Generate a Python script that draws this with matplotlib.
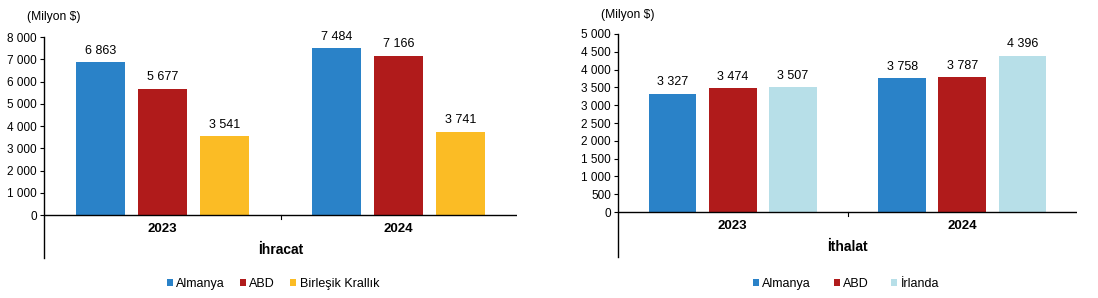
import numpy as np
import matplotlib
matplotlib.use("Agg")
import matplotlib.pyplot as plt
from matplotlib.patches import Patch
from matplotlib.ticker import FuncFormatter, MultipleLocator

plt.rcParams["font.family"] = ["Liberation Sans", "DejaVu Sans"]

# Veriler
yillar = ["2023", "2024"]

ihracat_ulkeler = ["Almanya", "ABD", "Birleşik Krallık"]
ihracat_almanya = [6863, 7484]
ihracat_abd = [5677, 7166]
ihracat_bk = [3541, 3741]

ithalat_ulkeler = ["Almanya", "ABD", "İrlanda"]
ithalat_almanya = [3327, 3758]
ithalat_abd = [3474, 3787]
ithalat_irlanda = [3507, 4396]

mavi = "#2a82c8"
kirmizi = "#b01b1b"
sari = "#fbbc25"
acik_mavi = "#b7dfe8"


def binlik(v, pos=None):
    return f"{int(round(v)):,}".replace(",", " ")


def grafik(ax, seriler, renkler, ymax, ystep, ymin, baslik):
    x = np.arange(len(yillar)) + 0.5
    aralik = 0.262
    genislik = 0.208
    for i, (degerler, renk) in enumerate(zip(seriler, renkler)):
        konum = x + (i - 1) * aralik
        bars = ax.bar(konum, degerler, width=genislik, color=renk, zorder=2)
        for b, v in zip(bars, degerler):
            ax.annotate(binlik(v), (b.get_x() + b.get_width() / 2, v),
                        xytext=(0, 4), textcoords="offset points",
                        ha="center", va="bottom", fontsize=9)
    ax.set_xlim(0, len(yillar))
    ax.set_ylim(ymin, ymax)
    ax.yaxis.set_major_locator(MultipleLocator(ystep))
    ax.yaxis.set_major_formatter(FuncFormatter(binlik))
    ax.set_yticks(np.arange(0, ymax + 1, ystep))
    ax.tick_params(axis="y", labelsize=8.5, length=3, width=0.8, pad=2)
    ax.set_xticks([])
    for s in ["top", "right", "bottom"]:
        ax.spines[s].set_visible(False)
    ax.spines["left"].set_linewidth(1.0)
    ax.axhline(0, color="black", lw=1.0, zorder=3)
    # grup ayirici tik
    d = (ymax - ymin) * 0.02
    ax.plot([1, 1], [0, -d], color="black", lw=0.8, clip_on=False)
    for xi, yil in zip(x, yillar):
        ax.text(xi, -(ymax - ymin) * 0.035, yil, ha="center", va="top",
                fontsize=9.5, fontweight="bold")
    ax.text(1, -(ymax - ymin) * 0.125, baslik, ha="center", va="top",
            fontsize=10, fontweight="bold")


fig = plt.figure(figsize=(10.98, 2.98), dpi=100)

ax1 = fig.add_axes([44 / 1098, 40 / 298, 473 / 1098, 221 / 298])
grafik(ax1, [ihracat_almanya, ihracat_abd, ihracat_bk], [mavi, kirmizi, sari],
       8000, 1000, -1930, "İhracat")
fig.text(27 / 1098, 1 - 17 / 298, "(Milyon $)", fontsize=8.7, va="center")

ax2 = fig.add_axes([618 / 1098, 41 / 298, 459 / 1098, 223 / 298])
grafik(ax2, [ithalat_almanya, ithalat_abd, ithalat_irlanda],
       [mavi, kirmizi, acik_mavi], 5000, 500, -1264, "İthalat")
fig.text(601 / 1098, 1 - 15 / 298, "(Milyon $)", fontsize=8.7, va="center")

for ulkeler, renkler, cx, cs in [
    (ihracat_ulkeler, [mavi, kirmizi, sari], 273 / 1098, 1.2),
    (ithalat_ulkeler, [mavi, kirmizi, acik_mavi], 846 / 1098, 1.8),
]:
    handles = [Patch(facecolor=r, label=u) for u, r in zip(ulkeler, renkler)]
    fig.legend(handles=handles, loc="center", bbox_to_anchor=(cx, 1 - 284 / 298),
               ncol=3, frameon=False, fontsize=9, handlelength=0.5,
               handleheight=0.5, handletextpad=0.25, columnspacing=cs)

fig.savefig("out.png", dpi=100)
